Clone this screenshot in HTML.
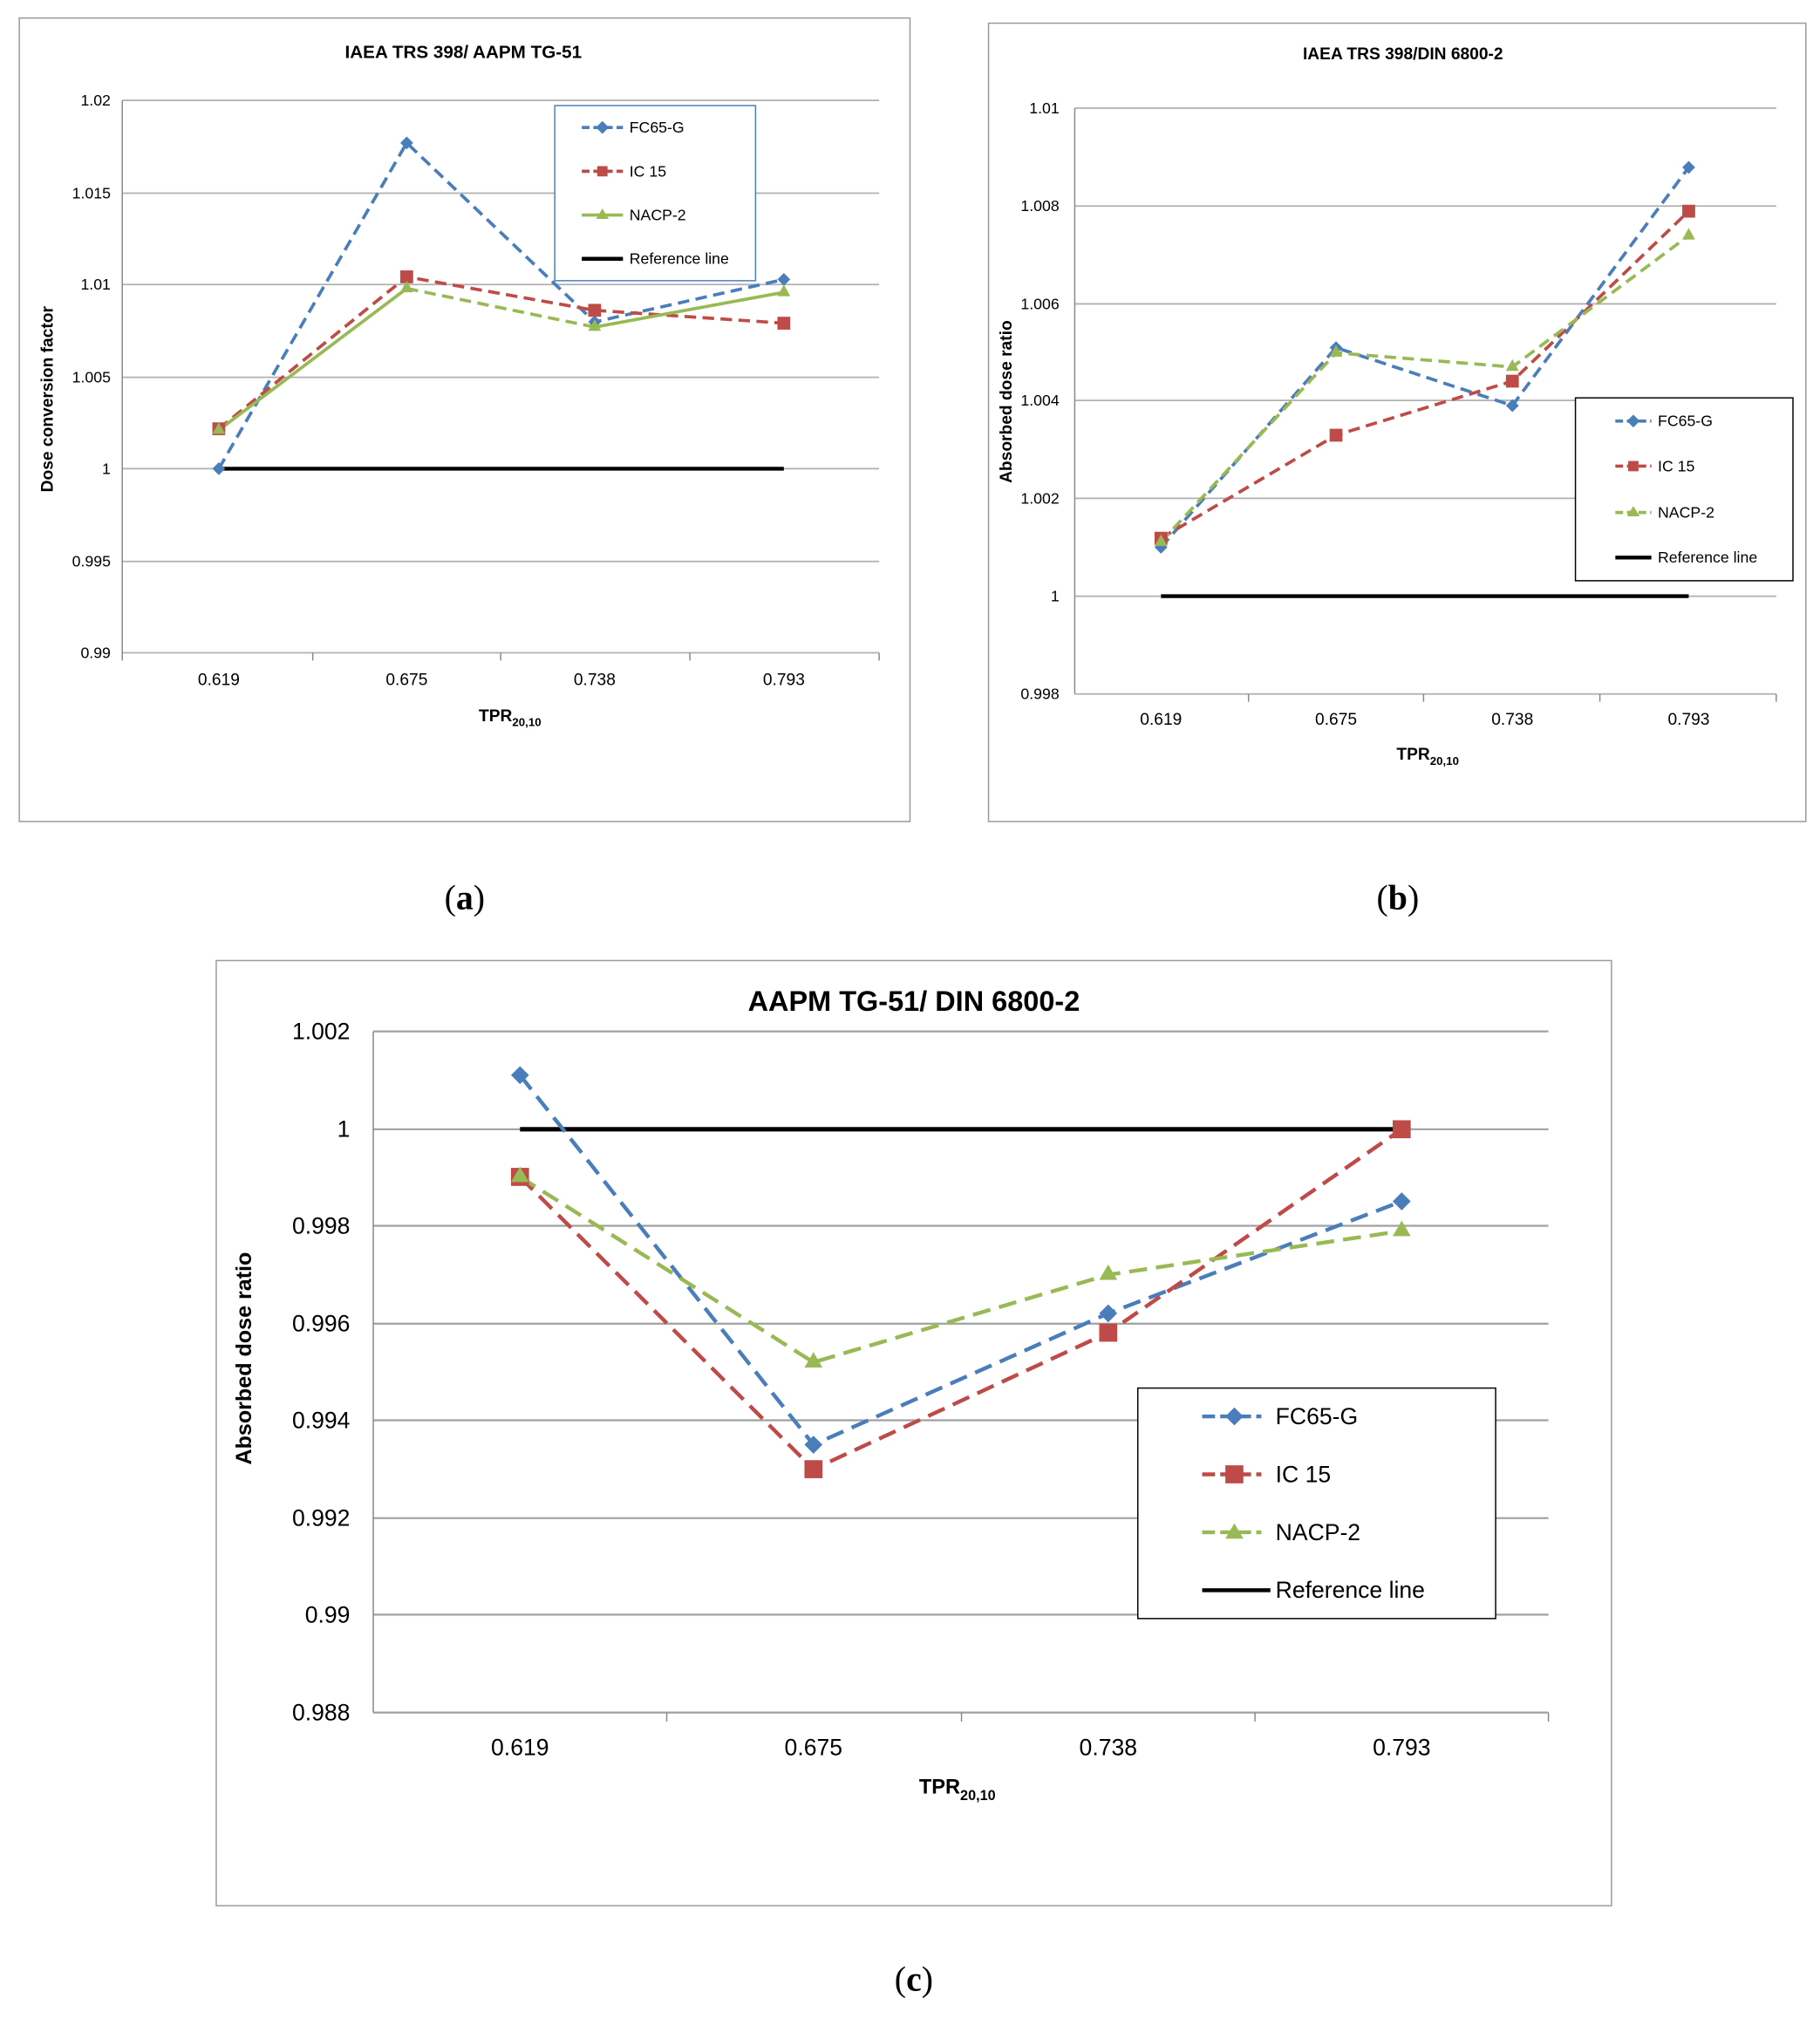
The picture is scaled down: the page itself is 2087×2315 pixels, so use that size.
<!DOCTYPE html>
<html><head><meta charset="utf-8"><style>
html,body{margin:0;padding:0;background:#fff}
svg{display:block}
text{font-family:"Liberation Sans",sans-serif;fill:#000}
</style></head><body>
<svg width="2087" height="2315" viewBox="0 0 1414 1568" preserveAspectRatio="none" xmlns="http://www.w3.org/2000/svg">
<defs>
<g id="dia"><path d="M0,-5 L5,0 L0,5 L-5,0Z"/></g>
</defs>
<!-- Panel a -->
<rect x="15" y="14" width="692" height="624" fill="#fff" stroke="#999"/>
<text x="360" y="45" font-size="14" font-weight="bold" text-anchor="middle">IAEA TRS 398/ AAPM TG-51</text>
<g stroke="#b0b0b0" stroke-width="1.2">
<line x1="95" x2="683" y1="78" y2="78"/><line x1="95" x2="683" y1="150" y2="150"/><line x1="95" x2="683" y1="221" y2="221"/><line x1="95" x2="683" y1="293" y2="293"/><line x1="95" x2="683" y1="364" y2="364"/><line x1="95" x2="683" y1="436" y2="436"/><line x1="95" x2="683" y1="507" y2="507"/>
</g>
<g stroke="#888"><line x1="95" y1="78" x2="95" y2="507"/><line x1="243" y1="507" x2="243" y2="513"/><line x1="389" y1="507" x2="389" y2="513"/><line x1="536" y1="507" x2="536" y2="513"/><line x1="683" y1="507" x2="683" y2="513"/><line x1="95" y1="507" x2="95" y2="513"/></g>
<g font-size="12" text-anchor="end"><text x="86" y="82">1.02</text><text x="86" y="154">1.015</text><text x="86" y="225">1.01</text><text x="86" y="297">1.005</text><text x="86" y="368">1</text><text x="86" y="440">0.995</text><text x="86" y="511">0.99</text></g>
<g font-size="13" text-anchor="middle"><text x="170" y="532">0.619</text><text x="316" y="532">0.675</text><text x="462" y="532">0.738</text><text x="609" y="532">0.793</text></g>
<text x="372" y="560" font-size="13" font-weight="bold">TPR<tspan font-size="9" dy="4">20,10</tspan></text>
<text transform="translate(41,310) rotate(-90)" font-size="13" font-weight="bold" text-anchor="middle">Dose conversion factor</text>
<line x1="170" y1="364" x2="609" y2="364" stroke="#000" stroke-width="3"/>
<polyline points="170,364 316,111 462,250 609,217" fill="none" stroke="#4a7ebb" stroke-width="2.5" stroke-dasharray="9,5"/>
<polyline points="170,333 316,215 462,241 609,251" fill="none" stroke="#be4b48" stroke-width="2.5" stroke-dasharray="9,5"/>
<polyline points="170,334 316,224" fill="none" stroke="#98b954" stroke-width="2.5"/>
<polyline points="316,224 462,254" fill="none" stroke="#98b954" stroke-width="2.5" stroke-dasharray="9,5"/>
<polyline points="462,254 609,227" fill="none" stroke="#98b954" stroke-width="2.5"/>
<g fill="#4a7ebb"><use href="#dia" x="170" y="364"/><use href="#dia" x="316" y="111"/><use href="#dia" x="462" y="250"/><use href="#dia" x="609" y="217"/></g>
<g fill="#be4b48"><rect x="165" y="328" width="10" height="10"/><rect x="311" y="210" width="10" height="10"/><rect x="457" y="236" width="10" height="10"/><rect x="604" y="246" width="10" height="10"/></g>
<g fill="#98b954"><path d="M170,328 l5,9 h-10z"/><path d="M316,218 l5,9 h-10z"/><path d="M462,248 l5,9 h-10z"/><path d="M609,221 l5,9 h-10z"/></g>
<rect x="431" y="82" width="156" height="136" fill="#fff" stroke="#4a7ebb"/>
<line x1="452" x2="484" y1="99" y2="99" stroke="#4a7ebb" stroke-width="2.5" stroke-dasharray="6,3"/><use href="#dia" x="468" y="99" fill="#4a7ebb" transform="translate(0,0)"/>
<line x1="452" x2="484" y1="133" y2="133" stroke="#be4b48" stroke-width="2.5" stroke-dasharray="6,3"/><rect x="464" y="129" width="8" height="8" fill="#be4b48"/>
<line x1="452" x2="484" y1="167" y2="167" stroke="#98b954" stroke-width="2.5"/><path d="M468,162 l5,8 h-10z" fill="#98b954"/>
<line x1="452" x2="484" y1="201" y2="201" stroke="#000" stroke-width="3"/>
<g font-size="12"><text x="489" y="103">FC65-G</text><text x="489" y="137">IC 15</text><text x="489" y="171">NACP-2</text><text x="489" y="205">Reference line</text></g>

<!-- Panel b -->
<rect x="768" y="18" width="635" height="620" fill="#fff" stroke="#999"/>
<text x="1090" y="46" font-size="13" font-weight="bold" text-anchor="middle">IAEA TRS 398/DIN 6800-2</text>
<g stroke="#b0b0b0" stroke-width="1.2">
<line x1="835" x2="1380" y1="84" y2="84"/><line x1="835" x2="1380" y1="160" y2="160"/><line x1="835" x2="1380" y1="236" y2="236"/><line x1="835" x2="1380" y1="311" y2="311"/><line x1="835" x2="1380" y1="387" y2="387"/><line x1="835" x2="1380" y1="463" y2="463"/><line x1="835" x2="1380" y1="539" y2="539"/>
</g>
<g stroke="#888"><line x1="835" y1="84" x2="835" y2="539"/><line x1="970" y1="539" x2="970" y2="545"/><line x1="1106" y1="539" x2="1106" y2="545"/><line x1="1243" y1="539" x2="1243" y2="545"/><line x1="1380" y1="539" x2="1380" y2="545"/></g>
<g font-size="12" text-anchor="end"><text x="823" y="88">1.01</text><text x="823" y="164">1.008</text><text x="823" y="240">1.006</text><text x="823" y="315">1.004</text><text x="823" y="391">1.002</text><text x="823" y="467">1</text><text x="823" y="543">0.998</text></g>
<g font-size="13" text-anchor="middle"><text x="902" y="563">0.619</text><text x="1038" y="563">0.675</text><text x="1175" y="563">0.738</text><text x="1312" y="563">0.793</text></g>
<text x="1085" y="590" font-size="13" font-weight="bold">TPR<tspan font-size="9" dy="4">20,10</tspan></text>
<text transform="translate(786,312) rotate(-90)" font-size="13" font-weight="bold" text-anchor="middle">Absorbed dose ratio</text>
<line x1="902" y1="463" x2="1312" y2="463" stroke="#000" stroke-width="3"/>
<polyline points="902,425 1038,270 1175,315 1312,130" fill="none" stroke="#4a7ebb" stroke-width="2.5" stroke-dasharray="9,5"/>
<polyline points="902,418 1038,338 1175,296 1312,164" fill="none" stroke="#be4b48" stroke-width="2.5" stroke-dasharray="9,5"/>
<polyline points="902,421 1038,274 1175,285 1312,183" fill="none" stroke="#98b954" stroke-width="2.5" stroke-dasharray="9,5"/>
<g fill="#4a7ebb"><use href="#dia" x="902" y="425"/><use href="#dia" x="1038" y="270"/><use href="#dia" x="1175" y="315"/><use href="#dia" x="1312" y="130"/></g>
<g fill="#be4b48"><rect x="897" y="413" width="10" height="10"/><rect x="1033" y="333" width="10" height="10"/><rect x="1170" y="291" width="10" height="10"/><rect x="1307" y="159" width="10" height="10"/></g>
<g fill="#98b954"><path d="M902,415 l5,9 h-10z"/><path d="M1038,268 l5,9 h-10z"/><path d="M1175,279 l5,9 h-10z"/><path d="M1312,177 l5,9 h-10z"/></g>
<rect x="1224" y="309" width="169" height="142" fill="#fff" stroke="#000"/>
<line x1="1255" x2="1283" y1="327" y2="327" stroke="#4a7ebb" stroke-width="2.5" stroke-dasharray="6,3"/><use href="#dia" x="1269" y="327" fill="#4a7ebb"/>
<line x1="1255" x2="1283" y1="362" y2="362" stroke="#be4b48" stroke-width="2.5" stroke-dasharray="6,3"/><rect x="1265" y="358" width="8" height="8" fill="#be4b48"/>
<line x1="1255" x2="1283" y1="398" y2="398" stroke="#98b954" stroke-width="2.5" stroke-dasharray="6,3"/><path d="M1269,393 l5,8 h-10z" fill="#98b954"/>
<line x1="1255" x2="1283" y1="433" y2="433" stroke="#000" stroke-width="3"/>
<g font-size="12"><text x="1288" y="331">FC65-G</text><text x="1288" y="366">IC 15</text><text x="1288" y="402">NACP-2</text><text x="1288" y="437">Reference line</text></g>

<!-- captions -->
<g font-family="Liberation Serif" font-size="27" text-anchor="middle"><text x="361" y="706" style="font-family:'Liberation Serif',serif">(<tspan font-weight="bold">a</tspan>)</text><text x="1086" y="706" style="font-family:'Liberation Serif',serif">(<tspan font-weight="bold">b</tspan>)</text><text x="710" y="1546" style="font-family:'Liberation Serif',serif">(<tspan font-weight="bold">c</tspan>)</text></g>

<!-- Panel c -->
<rect x="168" y="746" width="1084" height="734" fill="#fff" stroke="#999"/>
<text x="710" y="785" font-size="22" font-weight="bold" text-anchor="middle">AAPM TG-51/ DIN 6800-2</text>
<g stroke="#a0a0a0" stroke-width="1.5">
<line x1="290" x2="1203" y1="801" y2="801"/><line x1="290" x2="1203" y1="877" y2="877"/><line x1="290" x2="1203" y1="952" y2="952"/><line x1="290" x2="1203" y1="1028" y2="1028"/><line x1="290" x2="1203" y1="1103" y2="1103"/><line x1="290" x2="1203" y1="1179" y2="1179"/><line x1="290" x2="1203" y1="1254" y2="1254"/><line x1="290" x2="1203" y1="1330" y2="1330"/>
</g>
<g stroke="#888"><line x1="290" y1="801" x2="290" y2="1330"/><line x1="518" y1="1330" x2="518" y2="1337"/><line x1="747" y1="1330" x2="747" y2="1337"/><line x1="975" y1="1330" x2="975" y2="1337"/><line x1="1203" y1="1330" x2="1203" y2="1337"/></g>
<g font-size="18" text-anchor="end"><text x="272" y="807">1.002</text><text x="272" y="883">1</text><text x="272" y="958">0.998</text><text x="272" y="1034">0.996</text><text x="272" y="1109">0.994</text><text x="272" y="1185">0.992</text><text x="272" y="1260">0.99</text><text x="272" y="1336">0.988</text></g>
<g font-size="18" text-anchor="middle"><text x="404" y="1363">0.619</text><text x="632" y="1363">0.675</text><text x="861" y="1363">0.738</text><text x="1089" y="1363">0.793</text></g>
<text x="714" y="1393" font-size="16" font-weight="bold">TPR<tspan font-size="11" dy="5">20,10</tspan></text>
<text transform="translate(195,1055) rotate(-90)" font-size="17" font-weight="bold" text-anchor="middle">Absorbed dose ratio</text>
<line x1="404" y1="877" x2="1089" y2="877" stroke="#000" stroke-width="3.5"/>
<polyline points="404,835 632,1122 861,1020 1089,933" fill="none" stroke="#4a7ebb" stroke-width="3" stroke-dasharray="14,7"/>
<polyline points="404,914 632,1141 861,1035 1089,877" fill="none" stroke="#be4b48" stroke-width="3" stroke-dasharray="14,7"/>
<polyline points="404,914 632,1058 861,990 1089,956" fill="none" stroke="#98b954" stroke-width="3" stroke-dasharray="14,7"/>
<g fill="#4a7ebb"><path d="M404,828 l7,7 l-7,7 l-7,-7z"/><path d="M632,1115 l7,7 l-7,7 l-7,-7z"/><path d="M861,1013 l7,7 l-7,7 l-7,-7z"/><path d="M1089,926 l7,7 l-7,7 l-7,-7z"/></g>
<g fill="#be4b48"><rect x="397" y="907" width="14" height="14"/><rect x="625" y="1134" width="14" height="14"/><rect x="854" y="1028" width="14" height="14"/><rect x="1082" y="870" width="14" height="14"/></g>
<g fill="#98b954"><path d="M404,906 l7,12 h-14z"/><path d="M632,1050 l7,12 h-14z"/><path d="M861,982 l7,12 h-14z"/><path d="M1089,948 l7,12 h-14z"/></g>
<rect x="884" y="1078" width="278" height="179" fill="#fff" stroke="#000"/>
<line x1="934" x2="980" y1="1100" y2="1100" stroke="#4a7ebb" stroke-width="3" stroke-dasharray="10,4"/><path d="M959,1093 l7,7 l-7,7 l-7,-7z" fill="#4a7ebb"/>
<line x1="934" x2="980" y1="1145" y2="1145" stroke="#be4b48" stroke-width="3" stroke-dasharray="10,4"/><rect x="952" y="1138" width="14" height="14" fill="#be4b48"/>
<line x1="934" x2="980" y1="1190" y2="1190" stroke="#98b954" stroke-width="3" stroke-dasharray="10,4"/><path d="M959,1183 l7,12 h-14z" fill="#98b954"/>
<line x1="934" x2="987" y1="1235" y2="1235" stroke="#000" stroke-width="3"/>
<g font-size="18"><text x="991" y="1106">FC65-G</text><text x="991" y="1151">IC 15</text><text x="991" y="1196">NACP-2</text><text x="991" y="1241">Reference line</text></g>
</svg>
</body></html>
